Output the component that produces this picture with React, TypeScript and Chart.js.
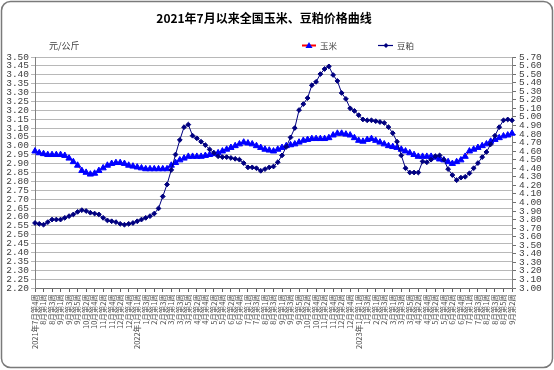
import React, { useEffect, useRef } from 'react';
import { Chart, registerables } from 'chart.js';
Chart.register(...registerables);

const weekLabels: string[] = [
  '2021年7月第4周', '7月第5周', '8月第1周', '8月第2周', '8月第3周', '8月第4周',
  '9月第1周', '9月第2周', '9月第3周', '9月第4周', '9月第5周',
  '10月第1周', '10月第2周', '10月第3周', '10月第4周',
  '11月第1周', '11月第2周', '11月第3周', '11月第4周',
  '12月第1周', '12月第2周', '12月第3周', '12月第4周', '12月第5周',
  '2022年1月第1周', '1月第2周', '1月第3周', '1月第4周',
  '2月第1周', '2月第2周', '2月第3周', '2月第4周',
  '3月第1周', '3月第2周', '3月第3周', '3月第4周', '3月第5周',
  '4月第1周', '4月第2周', '4月第3周', '4月第4周',
  '5月第1周', '5月第2周', '5月第3周', '5月第4周',
  '6月第1周', '6月第2周', '6月第3周', '6月第4周', '6月第5周',
  '7月第1周', '7月第2周', '7月第3周', '7月第4周',
  '8月第1周', '8月第2周', '8月第3周', '8月第4周',
  '9月第1周', '9月第2周', '9月第3周', '9月第4周', '9月第5周',
  '10月第1周', '10月第2周', '10月第3周', '10月第4周',
  '11月第1周', '11月第2周', '11月第3周', '11月第4周',
  '12月第1周', '12月第2周', '12月第3周', '12月第4周', '12月第5周',
  '2023年1月第1周', '1月第2周', '1月第3周', '1月第4周',
  '2月第1周', '2月第2周', '2月第3周', '2月第4周',
  '3月第1周', '3月第2周', '3月第3周', '3月第4周', '3月第5周',
  '4月第1周', '4月第2周', '4月第3周', '4月第4周',
  '5月第1周', '5月第2周', '5月第3周', '5月第4周',
  '6月第1周', '6月第2周', '6月第3周', '6月第4周', '6月第5周',
  '7月第1周', '7月第2周', '7月第3周', '7月第4周',
  '8月第1周', '8月第2周', '8月第3周', '8月第4周', '8月第5周',
  '9月第1周', '9月第2周',
];

// 玉米 (left axis, 元/公斤)
const cornPrices: number[] = [
  2.97, 2.96, 2.955, 2.95, 2.95, 2.95, 2.95, 2.945, 2.93, 2.91,
  2.89, 2.86, 2.85, 2.84, 2.845, 2.86, 2.875, 2.89, 2.9, 2.905,
  2.905, 2.9, 2.89, 2.885, 2.88, 2.875, 2.87, 2.87, 2.87, 2.87,
  2.87, 2.87, 2.89, 2.905, 2.92, 2.93, 2.94, 2.94, 2.94, 2.94,
  2.945, 2.95, 2.955, 2.96, 2.97, 2.98, 2.99, 3.0, 3.01, 3.02,
  3.015, 3.01, 3.0, 2.99, 2.98, 2.975, 2.97, 2.98, 2.99, 3.0,
  3.005, 3.01, 3.02, 3.03, 3.035, 3.04, 3.04, 3.04, 3.04, 3.045,
  3.06, 3.07, 3.07, 3.065, 3.06, 3.045, 3.03, 3.025, 3.035, 3.04,
  3.03, 3.02, 3.01, 3.0, 2.995, 2.99, 2.98, 2.97, 2.96, 2.95,
  2.94, 2.94, 2.94, 2.94, 2.935, 2.925, 2.92, 2.91, 2.9, 2.91,
  2.92, 2.94, 2.97, 2.98, 2.99, 3.0, 3.01, 3.025, 3.035, 3.045,
  3.055, 3.06, 3.07,
];

// 豆粕 (right axis, 元/公斤)
const mealPrices: number[] = [
  3.76, 3.75, 3.74, 3.77, 3.8, 3.8, 3.8, 3.82, 3.84, 3.86,
  3.89, 3.91, 3.9, 3.88, 3.87, 3.86, 3.82, 3.79, 3.78, 3.77,
  3.75, 3.74, 3.75, 3.76, 3.78, 3.8, 3.82, 3.84, 3.87, 3.93,
  4.07, 4.21, 4.38, 4.56, 4.73, 4.88, 4.91, 4.78, 4.75, 4.71,
  4.67, 4.62, 4.58, 4.54, 4.53, 4.53, 4.52, 4.51, 4.5, 4.46,
  4.41, 4.41, 4.4, 4.37, 4.39, 4.41, 4.42, 4.47, 4.55, 4.65,
  4.76, 4.87, 5.08, 5.15, 5.22, 5.37, 5.41, 5.5, 5.56, 5.59,
  5.49, 5.42, 5.28, 5.21, 5.1, 5.07, 5.02, 4.97, 4.96, 4.96,
  4.95, 4.94, 4.93, 4.88, 4.81, 4.71, 4.55, 4.4, 4.35, 4.35,
  4.35, 4.48, 4.47, 4.5, 4.54, 4.55, 4.5, 4.39, 4.32, 4.26,
  4.29, 4.3, 4.34, 4.4, 4.46, 4.53, 4.59, 4.68, 4.78, 4.88,
  4.96, 4.97, 4.96,
];

const titleText = '2021年7月以来全国玉米、豆粕价格曲线';
const unitText = '元/公斤';
const cornName = '玉米';
const mealName = '豆粕';

const W = 554;
const H = 370;

const decorPlugin = {
  id: 'decor',
  beforeDraw(chart: any) {
    const ctx = chart.ctx;
    ctx.save();
    ctx.fillStyle = '#ffffff';
    ctx.fillRect(0, 0, W, H);
    ctx.restore();
  },
  afterDraw(chart: any) {
    const ctx = chart.ctx;
    ctx.save();
    // outer rounded border
    ctx.strokeStyle = '#7a7a7a';
    ctx.lineWidth = 1.5;
    ctx.beginPath();
    (ctx as any).roundRect(1.5, 1.5, W - 3, H - 4, 9);
    ctx.stroke();

    // title
    ctx.fillStyle = '#000000';
    ctx.font = 'bold 12px "Noto Sans CJK SC"';
    ctx.textAlign = 'center';
    ctx.textBaseline = 'middle';
    ctx.fillText(titleText, 264, 18);

    // unit
    ctx.fillStyle = '#404040';
    ctx.font = '9px "Noto Sans CJK SC"';
    ctx.textAlign = 'left';
    ctx.fillText(unitText, 49, 46);

    // legend: corn
    ctx.strokeStyle = '#ff0000';
    ctx.lineWidth = 2;
    ctx.beginPath();
    ctx.moveTo(302, 45.5);
    ctx.lineTo(316, 45.5);
    ctx.stroke();
    ctx.fillStyle = '#0000ff';
    ctx.beginPath();
    ctx.moveTo(309, 42);
    ctx.lineTo(312.5, 48);
    ctx.lineTo(305.5, 48);
    ctx.closePath();
    ctx.fill();
    ctx.fillStyle = '#404040';
    ctx.font = '8.5px "Noto Sans CJK SC"';
    ctx.fillText(cornName, 320, 46);

    // legend: meal
    ctx.strokeStyle = '#000080';
    ctx.lineWidth = 1.2;
    ctx.beginPath();
    ctx.moveTo(378, 45.5);
    ctx.lineTo(393, 45.5);
    ctx.stroke();
    ctx.fillStyle = '#000080';
    ctx.beginPath();
    ctx.moveTo(386, 43);
    ctx.lineTo(388.5, 45.5);
    ctx.lineTo(386, 48);
    ctx.lineTo(383.5, 45.5);
    ctx.closePath();
    ctx.fill();
    ctx.fillStyle = '#404040';
    ctx.fillText(mealName, 397, 46);
    ctx.restore();
  },
};

export default function App() {
  const ref = useRef<HTMLCanvasElement | null>(null);
  useEffect(() => {
    document.body.style.margin = '0';
    const canvas = ref.current;
    if (!canvas) return;
    const chart = new Chart(canvas, {
      type: 'line',
      data: {
        labels: weekLabels,
        datasets: [
          {
            label: cornName,
            data: cornPrices,
            yAxisID: 'y',
            borderColor: '#ff0000',
            borderWidth: 1,
            backgroundColor: '#0000ff',
            pointStyle: 'triangle',
            pointRadius: 3.6,
            pointBackgroundColor: '#0000ff',
            pointBorderColor: '#0000ff',
            pointBorderWidth: 1,
            tension: 0,
            order: 1,
          },
          {
            label: mealName,
            data: mealPrices,
            yAxisID: 'y1',
            borderColor: '#000080',
            borderWidth: 1,
            backgroundColor: '#000080',
            pointStyle: 'rectRot',
            pointRadius: 2.4,
            pointBackgroundColor: '#000080',
            pointBorderColor: '#000080',
            pointBorderWidth: 1,
            tension: 0,
            order: 0,
          },
        ],
      },
      options: {
        responsive: false,
        animation: false,
        devicePixelRatio: 1,
        layout: { padding: { top: 57, left: 0, right: 0, bottom: 0 } },
        plugins: {
          legend: { display: false },
          title: { display: false },
          tooltip: { enabled: false },
        },
        scales: {
          x: {
            offset: false,
            afterFit: (s: any) => { s.height = 82; },
            grid: {
              drawOnChartArea: false,
              drawTicks: true,
              tickLength: 4,
              color: (c: any) => (c.index % 2 === 0 ? '#606060' : 'rgba(0,0,0,0)'),
            },
            border: { display: true, color: '#707070', width: 1 },
            ticks: {
              autoSkip: false,
              minRotation: 90,
              maxRotation: 90,
              padding: 2,
              color: '#505050',
              font: { family: '"Noto Sans CJK SC"', size: 7.5 },
              callback: (_v: any, i: number) => (i % 2 === 0 ? weekLabels[i] : ''),
            },
          },
          y: {
            position: 'left',
            min: 2.2,
            max: 3.5,
            afterFit: (s: any) => { s.width = 35; },
            grid: {
              color: '#b8b8b8',
              lineWidth: 1,
              drawTicks: true,
              tickLength: 4,
            },
            border: { display: true, color: '#808080' },
            ticks: {
              stepSize: 0.05,
              autoSkip: false,
              padding: 2,
              color: '#404040',
              font: { family: '"Liberation Mono"', size: 9.5 },
              callback: (v: any) => Number(v).toFixed(2),
            },
          },
          y1: {
            position: 'right',
            min: 3.0,
            max: 5.7,
            afterFit: (s: any) => { s.width = 42; },
            grid: {
              drawOnChartArea: false,
              drawTicks: true,
              tickLength: 4,
              color: '#707070',
            },
            border: { display: true, color: '#808080' },
            ticks: {
              stepSize: 0.1,
              autoSkip: false,
              padding: 3,
              color: '#404040',
              font: { family: '"Liberation Mono"', size: 9.5 },
              callback: (v: any) => Number(v).toFixed(2),
            },
          },
        },
      },
      plugins: [decorPlugin],
    });
    return () => chart.destroy();
  }, []);
  return (
    <div style={{ position: 'absolute', left: 0, top: 0, width: W, height: H }}>
      <canvas ref={ref} width={W} height={H} style={{ display: 'block' }} />
    </div>
  );
}
